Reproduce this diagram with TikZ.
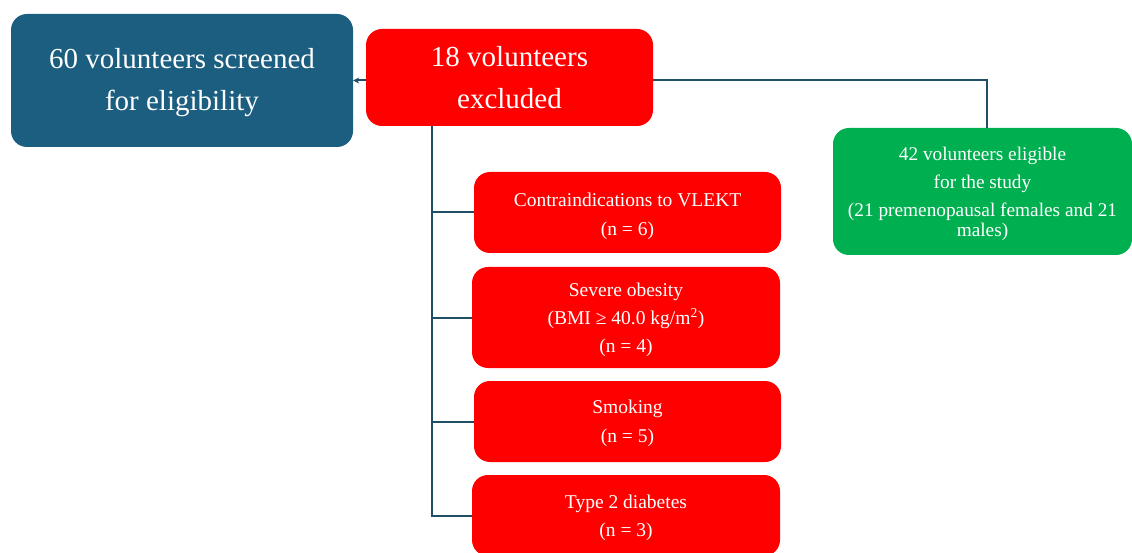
\documentclass[tikz,border=0pt]{standalone}
\usepackage{fontspec}
\setmainfont{Liberation Serif}
\usetikzlibrary{arrows.meta}
\definecolor{boxblue}{HTML}{1B5E80}
\definecolor{boxred}{HTML}{FF0000}
\definecolor{boxgreen}{HTML}{00B050}
\definecolor{linkblue}{HTML}{1F4E66}
\begin{document}
\begin{tikzpicture}[x=1pt,y=-1pt,
 box/.style={rounded corners=16pt, inner sep=0pt, anchor=center},
 lt/.style={text=white, align=center, inner sep=0pt},
 bigtext/.style={lt, font=\fontsize{29}{42}\selectfont},
 smalltext/.style={lt, font=\fontsize{19.5}{29}\selectfont},
 small28/.style={lt, font=\fontsize{19.5}{28}\selectfont},
 greentext/.style={lt, font=\fontsize{19.3}{28}\selectfont},
 link/.style={draw=linkblue, line width=2pt}]
\useasboundingbox (0,0) rectangle (1132,553);
\node[box, fill=boxblue, minimum width=342pt, minimum height=133pt,
  label={[bigtext, yshift=-2pt]center:{60 volunteers screened\\for eligibility}}] (scr) at (182,80.5) {};
\node[box, fill=boxred, minimum width=287pt, minimum height=97pt,
  label={[bigtext, yshift=0pt]center:{18 volunteers\\excluded}}] (exc) at (509.5,77.5) {};
\node[box, fill=boxgreen, minimum width=299pt, minimum height=127pt,
  label={[greentext, yshift=-2pt]center:{42 volunteers eligible\\for the study\\(21 premenopausal females and 21\\[-8pt]males)}}] (eli) at (982.5,191.5) {};
\node[box, fill=boxred, minimum width=307pt, minimum height=81pt,
  label={[smalltext, yshift=-3.5pt]center:{Contraindications to VLEKT\\(n = 6)}}] (b1) at (627.5,212.5) {};
\node[box, fill=boxred, minimum width=308pt, minimum height=101pt,
  label={[small28, yshift=-2.5pt]center:{Severe obesity\\(BMI ≥ 40.0 kg/m\textsuperscript{2})\\(n = 4)}}] (b2) at (626,317.5) {};
\node[box, fill=boxred, minimum width=307pt, minimum height=81pt,
  label={[smalltext, yshift=-2pt]center:{Smoking\\(n = 5)}}] (b3) at (627.5,421.5) {};
\node[box, fill=boxred, minimum width=308pt, minimum height=81pt,
  label={[small28, yshift=-2.5pt]center:{Type 2 diabetes\\(n = 3)}}] (b4) at (626,515.5) {};
\coordinate (t) at (432,0);
\coordinate (g) at (987,0);
\draw[link] (t |- exc.south) -- (t |- b4.west) -- (b4.west);
\draw[link] (t |- b1.west) -- (b1.west);
\draw[link] (t |- b2.west) -- (b2.west);
\draw[link] (t |- b3.west) -- (b3.west);
\draw[link] ([yshift=-3pt]exc.east) -- ([yshift=-3pt]g |- exc.east) -- (g |- eli.north);
\draw[link, -{Stealth[length=6pt,width=6pt]}] ([yshift=-3pt]exc.west) -- ([yshift=-3pt]scr.east |- exc.west);
\end{tikzpicture}
\end{document}
